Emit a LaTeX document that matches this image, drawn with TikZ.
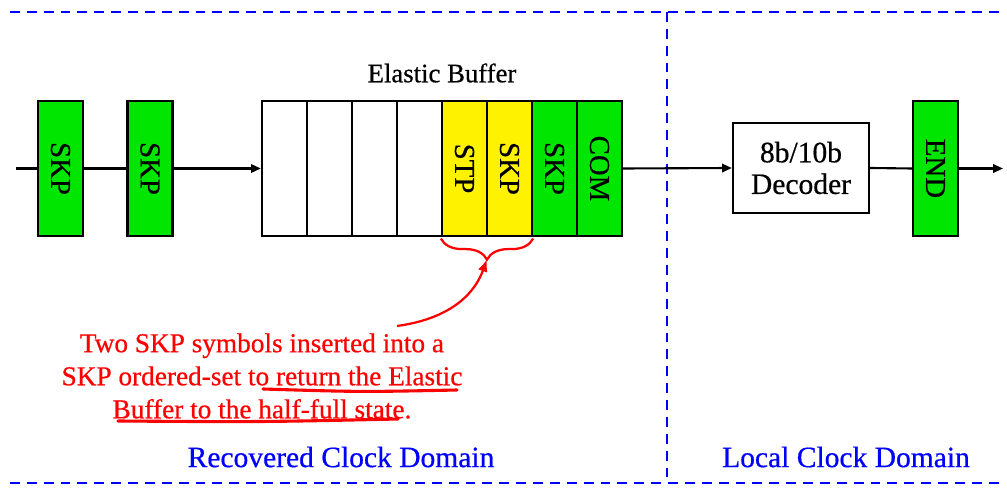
\documentclass[tikz,border=0pt]{standalone}
\usepackage{fontspec}
\setmainfont[FakeBold=0.6]{Liberation Serif}
\usepackage{xcolor}
\usetikzlibrary{arrows.meta,decorations.pathreplacing}
\definecolor{symgreen}{RGB}{0,230,0}

\begin{document}
\begin{tikzpicture}[x=0.025cm,y=-0.025cm]
        \tikzstyle{every node}+=[inner sep=0pt]
        \tikzstyle{sym}=[draw=black,line width=1.6pt,minimum width=1.125cm,minimum height=3.375cm,font=\fontsize{20.5}{24}\selectfont]
        \tikzstyle{flow}=[black,line width=1.5pt]
        \tikzstyle{flowarr}=[flow,-{Triangle[length=7pt,width=6pt]}]
        \tikzstyle{dom}=[blue,line width=2pt,dash pattern=on 7pt off 5pt]
        \tikzstyle{domlabel}=[blue,font=\fontsize{21}{25}\selectfont]
        \tikzstyle{note}=[red,line width=1.6pt]
        \useasboundingbox (0,0) rectangle (1007,497);
        \coordinate (tl) at (10,12);
        \coordinate (tr) at (1000,12);
        \coordinate (bl) at (10,483);
        \coordinate (br) at (1000,483);
        \coordinate (vt) at (667,12);
        \coordinate (vb) at (667,483);
        \draw [dom] (tl) -- (tr);
        \draw [dom] (bl) -- (br);
        \draw [dom] (vt) -- (vb);
        \node [sym,fill=symgreen] (skpa) at (60.5,168.5) {\rotatebox{-90}{SKP}};
        \node [sym,fill=symgreen] (skpb) at (150,168.5) {\rotatebox{-90}{SKP}};
        \node [sym,fill=white] (ca) at (284.5,168.5) {};
        \node [sym,fill=white] (cb) at (329.5,168.5) {};
        \node [sym,fill=white] (cc) at (374.5,168.5) {};
        \node [sym,fill=white] (cd) at (419.5,168.5) {};
        \node [sym,fill=yellow] (stp) at (464.5,168.5) {\rotatebox{-90}{STP}};
        \node [sym,fill=yellow] (skpc) at (509.5,168.5) {\rotatebox{-90}{SKP}};
        \node [sym,fill=symgreen] (skpd) at (554.5,168.5) {\rotatebox{-90}{SKP}};
        \node [sym,fill=symgreen] (com) at (599.5,168.5) {\rotatebox{-90}{COM}};
        \node [font=\fontsize{19}{22}\selectfont] (ebuf) at (442,73) {Elastic Buffer};
        \node [draw=black,line width=1.6pt,minimum width=3.4cm,minimum height=2.25cm,align=center,font=\fontsize{21}{22.5}\selectfont] (dec) at (801,168) {8b/10b\\Decoder};
        \node [sym,fill=symgreen] (endb) at (935.5,168.5) {\rotatebox{-90}{END}};
        \coordinate (in) at (16,168.5);
        \coordinate (out) at (1003,168.5);
        \draw [flow] (in) -- (skpa.west);
        \draw [flow] (skpa.east) -- (skpb.west);
        \draw [flowarr] (skpb.east) -- (ca.west);
        \draw [flowarr] (com.east) -- (dec.west);
        \draw [flow] (dec.east) -- (endb.west);
        \draw [flowarr] (endb.east) -- (out);
        \draw [note,decorate,decoration={brace,mirror,amplitude=15pt}] ([yshift=-1pt]stp.south west) -- ([yshift=-1pt]skpc.south east);
        \coordinate (tip) at (487,259);
        \coordinate (from) at (397,326);
        \draw [note,-{Latex[length=9pt,width=7pt]}] (from) .. controls (455,318) and (476,290) .. (tip);
        \node [red,align=center,font=\fontsize{19.4}{23.5}\selectfont] (txt) at (262,376) {Two SKP symbols inserted into a\\SKP ordered-set to return the Elastic\\Buffer to the half-full state.};
        \draw [red,line width=2.2pt,line cap=round] (263,389) .. controls (360,392) .. (457,390);
        \draw [red,line width=2.2pt,line cap=round] (118,421) .. controls (260,422) .. (398,419);
        \node [domlabel] (rcd) at (341,457) {Recovered Clock Domain};
        \node [domlabel] (lcd) at (846,457) {Local Clock Domain};
    \end{tikzpicture}
\end{document}
